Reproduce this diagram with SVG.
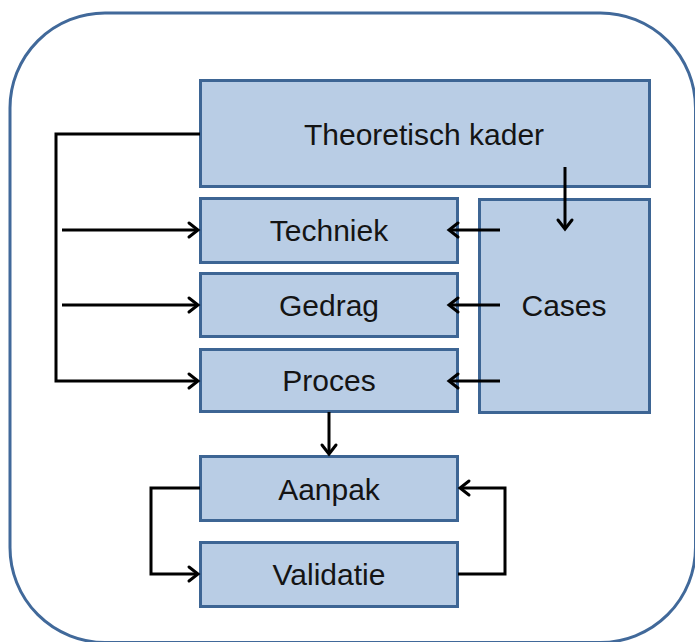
<svg xmlns="http://www.w3.org/2000/svg" width="695" height="642" viewBox="0 0 695 642">
  <defs>
    <style>
      .frame { fill: #ffffff; stroke: #41699A; stroke-width: 3; }
      .box { fill: #B9CDE5; stroke: #3D6594; stroke-width: 3; }
      .label { font-family: "Liberation Sans", Arial, sans-serif; font-size: 30px; fill: #141414; text-anchor: middle; }
      .wire { fill: none; stroke: #000000; stroke-width: 3; stroke-linejoin: miter; }
    </style>
    <marker id="arrow" markerUnits="userSpaceOnUse" markerWidth="16" markerHeight="18" refX="12" refY="8" orient="auto" overflow="visible">
      <path d="M3,1 L12,8 L3,15" fill="none" stroke="#000000" stroke-width="3" stroke-linecap="round" stroke-linejoin="miter"/>
    </marker>
  </defs>

  <!-- outer frame -->
  <rect class="frame" x="10" y="13" width="685.5" height="629.5" rx="95" ry="95"/>

  <g id="theoretisch-kader">
    <rect class="box" x="200.5" y="80.5" width="449" height="106"/>
    <text class="label" x="424" y="145">Theoretisch kader</text>
  </g>
  <g id="techniek">
    <rect class="box" x="200.5" y="198.5" width="257" height="64"/>
    <text class="label" x="329" y="241">Techniek</text>
  </g>
  <g id="gedrag">
    <rect class="box" x="200.5" y="273.5" width="257" height="63"/>
    <text class="label" x="329" y="316">Gedrag</text>
  </g>
  <g id="proces">
    <rect class="box" x="200.5" y="349.5" width="257" height="62"/>
    <text class="label" x="329" y="391">Proces</text>
  </g>
  <g id="cases">
    <rect class="box" x="479.5" y="199.5" width="170" height="213"/>
    <text class="label" x="564" y="316">Cases</text>
  </g>
  <g id="aanpak">
    <rect class="box" x="200.5" y="456.5" width="257" height="64"/>
    <text class="label" x="329" y="500">Aanpak</text>
  </g>
  <g id="validatie">
    <rect class="box" x="200.5" y="542.5" width="257" height="64"/>
    <text class="label" x="329" y="585">Validatie</text>
  </g>

  <g id="connectors">
    <!-- theory feeds the three aspects from the left -->
    <path class="wire" d="M200,134 H56 V381 H198" marker-end="url(#arrow)"/>
    <path class="wire" d="M62,230 H198" marker-end="url(#arrow)"/>
    <path class="wire" d="M62,305 H198" marker-end="url(#arrow)"/>
    <!-- theory down into cases -->
    <path class="wire" d="M565,167 V229" marker-end="url(#arrow)"/>
    <!-- cases back into the aspects -->
    <path class="wire" d="M500,230 H449" marker-end="url(#arrow)"/>
    <path class="wire" d="M500,305 H449" marker-end="url(#arrow)"/>
    <path class="wire" d="M500,381 H449" marker-end="url(#arrow)"/>
    <!-- proces to aanpak -->
    <path class="wire" d="M329,412 V454" marker-end="url(#arrow)"/>
    <!-- aanpak / validatie loop -->
    <path class="wire" d="M200,488 H151 V574 H198" marker-end="url(#arrow)"/>
    <path class="wire" d="M458,574 H505 V488 H460" marker-end="url(#arrow)"/>
  </g>
</svg>
